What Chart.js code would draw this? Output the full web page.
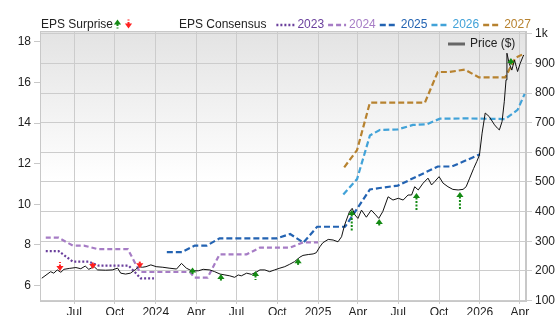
<!DOCTYPE html>
<html>
<head>
<meta charset="utf-8">
<script src="https://cdn.jsdelivr.net/npm/chart.js@4.4.1/dist/chart.umd.min.js"></script>
<style>
  html, body { margin: 0; padding: 0; background: #fff; }
</style>
</head>
<body>
<canvas id="chart" width="556" height="315"></canvas>
<script>
// x axis ticks (quarter starts)
const xTickDates = ['2023-07-01', '2023-10-01', '2024-01-01', '2024-04-01', '2024-07-01', '2024-10-01',
  '2025-01-01', '2025-04-01', '2025-07-01', '2025-10-01', '2026-01-01', '2026-04-01'];
const xTickLabels = ['Jul', 'Oct', '2024', 'Apr', 'Jul', 'Oct', '2025', 'Apr', 'Jul', 'Oct', '2026', 'Apr'];

const epsTicks = [6, 8, 10, 12, 14, 16, 18];
const priceTicks = [100, 200, 300, 400, 500, 600, 700, 800, 900, 1000];
const priceTickLabels = ['100', '200', '300', '400', '500', '600', '700', '800', '900', '1k'];

// share price ($)
const priceDates = [
  '2023-04-19', '2023-05-09', '2023-05-16', '2023-05-24', '2023-06-01', '2023-06-08', '2023-06-20',
  '2023-07-05', '2023-07-16', '2023-07-26', '2023-08-03', '2023-08-15', '2023-08-23', '2023-09-10',
  '2023-09-25', '2023-10-07', '2023-10-14', '2023-10-25', '2023-11-05', '2023-11-17', '2023-11-24',
  '2023-12-02', '2023-12-10', '2023-12-21', '2024-01-02', '2024-01-17', '2024-01-31', '2024-02-17',
  '2024-02-28', '2024-03-10', '2024-03-22', '2024-04-06', '2024-04-17', '2024-05-02', '2024-05-13',
  '2024-05-25', '2024-06-05', '2024-06-16', '2024-06-27', '2024-07-05', '2024-07-12', '2024-07-24',
  '2024-08-04', '2024-08-14', '2024-08-23', '2024-09-03', '2024-09-14', '2024-09-25', '2024-10-07',
  '2024-10-18', '2024-10-29', '2024-11-09', '2024-11-21', '2024-11-28', '2024-12-10', '2024-12-21',
  '2024-12-28', '2025-01-05', '2025-01-12', '2025-01-24', '2025-02-04', '2025-02-15', '2025-02-23',
  '2025-03-02', '2025-03-13', '2025-03-19', '2025-03-25', '2025-04-01', '2025-04-09', '2025-04-20',
  '2025-05-01', '2025-05-11', '2025-05-18', '2025-05-27', '2025-06-08', '2025-06-19', '2025-07-01',
  '2025-07-12', '2025-07-23', '2025-07-31', '2025-08-07', '2025-08-15', '2025-08-26', '2025-09-06',
  '2025-09-14', '2025-09-21', '2025-10-01', '2025-10-10', '2025-10-21', '2025-11-01', '2025-11-13',
  '2025-11-24', '2025-12-01', '2025-12-09', '2025-12-18', '2025-12-25', '2025-12-31', '2026-01-06',
  '2026-01-13', '2026-01-22', '2026-02-03', '2026-02-10', '2026-02-14', '2026-02-20', '2026-02-25',
  '2026-03-01', '2026-03-03', '2026-03-08', '2026-03-14', '2026-03-20', '2026-03-24', '2026-03-27',
  '2026-04-02', '2026-04-08', '2026-04-10'];
const priceValues = [
  175, 197, 192, 203, 195, 205, 208,
  211, 207, 216, 205, 214, 203, 202,
  203, 209, 192, 189, 192, 205, 214,
  212, 214, 220, 214, 212, 209, 206,
  225, 209, 200, 200, 205, 203, 197,
  189, 186, 183, 178, 186, 183, 192,
  188, 195, 203, 203, 197, 203, 209,
  214, 222, 231, 246, 252, 255, 257,
  261, 281, 295, 306, 304, 298, 315,
  355, 400, 411, 389, 377, 405, 381,
  405, 389, 377, 400, 450, 439, 445,
  439, 456, 456, 484, 473, 496, 513,
  490, 501, 518, 496, 484, 475, 473,
  475, 484, 513, 546, 569, 591, 665,
  733, 721, 693, 681, 676, 704, 771,
  845, 935, 901, 878, 912, 890, 873,
  901, 923, 929];

// EPS consensus by fiscal year
const eps2023Dates = ['2023-04-28', '2023-05-27', '2023-06-28', '2023-08-03', '2023-08-26', '2023-11-01', '2023-11-28', '2023-12-28'];
const eps2023Values = [7.69, 7.69, 7.17, 7.17, 6.97, 6.97, 6.35, 6.35];

const eps2024Dates = ['2023-04-28', '2023-05-27', '2023-06-28', '2023-07-23', '2023-08-23', '2023-10-30', '2023-11-26', '2024-03-18',
  '2024-03-29', '2024-04-27', '2024-05-24', '2024-07-24', '2024-08-23', '2024-10-30', '2024-11-28', '2025-01-01'];
const eps2024Values = [8.35, 8.35, 7.96, 7.96, 7.79, 7.79, 6.66, 6.66, 6.38, 6.38, 7.53, 7.53, 7.86, 7.86, 8.12, 8.12];

const eps2025Dates = ['2024-01-26', '2024-02-29', '2024-03-29', '2024-04-25', '2024-05-24', '2024-09-30', '2024-10-30', '2024-11-29',
  '2024-12-30', '2025-03-03', '2025-04-28', '2025-05-20', '2025-06-30', '2025-09-28', '2025-10-30', '2026-01-01'];
const eps2025Values = [7.64, 7.64, 7.96, 7.96, 8.32, 8.32, 8.53, 8.11, 8.89, 8.89, 10.73, 10.8, 10.92, 11.86, 11.86, 12.46];

const eps2026Dates = ['2025-02-27', '2025-03-30', '2025-04-28', '2025-05-20', '2025-06-30', '2025-08-03', '2025-09-03', '2025-10-03',
  '2025-12-02', '2026-02-27', '2026-03-27', '2026-04-12'];
const eps2026Values = [10.48, 11.24, 13.39, 13.66, 13.69, 13.91, 13.94, 14.22, 14.23, 14.2, 14.65, 15.44];

const eps2027Dates = ['2025-03-01', '2025-03-30', '2025-04-28', '2025-08-30', '2025-09-28', '2025-10-25', '2025-11-28', '2025-12-30',
  '2026-02-27', '2026-03-22', '2026-04-12'];
const eps2027Values = [11.82, 12.67, 15.01, 15.01, 16.52, 16.52, 16.64, 16.25, 16.25, 17.21, 17.44];

// EPS surprises (arrow sits on the price, length follows the surprise %)
const surpriseDates = ['2023-05-30', '2023-08-12', '2023-11-26', '2024-03-24', '2024-05-27', '2024-08-13',
  '2024-11-17', '2025-03-18', '2025-05-19', '2025-08-11', '2025-11-17', '2026-03-12'];
const surprisePrices = [199, 206, 209, 211, 189, 199, 242, 405, 375, 463, 466, 919];
const surprisePct = [-4, -3, -3, 2, 3, 4, 2, 17, 3, 13, 12, 3];

const FONT = '"Liberation Sans", Arial, sans-serif';
const GREEN = '#148a14';
const RED = '#ff2020';
const yearColors = { 2023: '#6a3f9c', 2024: '#a67cc5', 2025: '#2363b2', 2026: '#41a2d8', 2027: '#b7822f' };
const yearDash = { 2023: [2, 2], 2024: [5, 3], 2025: [6, 3], 2026: [6, 3], 2027: [6, 3] };

const day = s => Date.parse(s);
const pairs = (dates, vals) => dates.map((d, i) => ({ x: day(d), y: vals[i] }));

function drawArrow(ctx, x, tipY, up, stem, color) {
  const s = up ? 1 : -1;
  ctx.fillStyle = color;
  ctx.beginPath();
  ctx.moveTo(x, tipY);
  ctx.lineTo(x - 3.6, tipY + s * 5);
  ctx.lineTo(x + 3.6, tipY + s * 5);
  ctx.closePath();
  ctx.fill();
  if (stem > 0) {
    ctx.strokeStyle = color;
    ctx.lineWidth = 2;
    ctx.setLineDash([2, 1.5]);
    ctx.beginPath();
    ctx.moveTo(x, tipY + s * 4.5);
    ctx.lineTo(x, tipY + s * (5 + stem));
    ctx.stroke();
    ctx.setLineDash([]);
  }
}

const bgPlugin = {
  id: 'bg',
  beforeDraw(chart) {
    const { ctx, chartArea: a } = chart;
    ctx.save();
    ctx.fillStyle = '#fff';
    ctx.fillRect(0, 0, chart.width, chart.height);
    const g = ctx.createLinearGradient(0, a.top, 0, a.bottom);
    g.addColorStop(0, '#e3e3e3');
    g.addColorStop(0.55, '#ffffff');
    g.addColorStop(1, '#ffffff');
    ctx.fillStyle = g;
    ctx.fillRect(a.left, a.top, a.right - a.left, a.bottom - a.top);
    ctx.restore();
  },
  beforeDatasetsDraw(chart) {
    const { ctx, chartArea: a } = chart;
    ctx.save();
    ctx.strokeStyle = '#c8c8c8';
    ctx.lineWidth = 1;
    ctx.strokeRect(a.left + 0.5, a.top + 0.5, a.right - a.left - 1, a.bottom - a.top);
    ctx.restore();
  }
};

const arrowPlugin = {
  id: 'surpriseArrows',
  afterDatasetsDraw(chart) {
    const idx = chart.data.datasets.findIndex(d => d.label === 'EPS Surprise');
    const meta = chart.getDatasetMeta(idx);
    const ctx = chart.ctx;
    ctx.save();
    meta.data.forEach((pt, i) => {
      const pct = surprisePct[i];
      drawArrow(ctx, pt.x, pt.y, pct > 0, Math.abs(pct), pct > 0 ? GREEN : RED);
    });
    ctx.restore();
  }
};

const legendPlugin = {
  id: 'topLegend',
  afterDraw(chart) {
    const ctx = chart.ctx;
    const a = chart.chartArea;
    const y = 25;
    ctx.save();
    ctx.font = '12px ' + FONT;
    ctx.textBaseline = 'middle';
    ctx.fillStyle = '#222';
    ctx.fillText('EPS Surprise', 41, y);
    drawArrow(ctx, 117.5, 19.5, true, 4, GREEN);
    drawArrow(ctx, 128.5, 28.5, false, 4, RED);

    let x = 179;
    ctx.fillStyle = '#222';
    ctx.fillText('EPS Consensus', x, y);
    x += ctx.measureText('EPS Consensus').width + 10;
    [2023, 2024, 2025, 2026, 2027].forEach(yr => {
      ctx.strokeStyle = yearColors[yr];
      ctx.lineWidth = 2.5;
      ctx.setLineDash(yearDash[yr]);
      ctx.beginPath();
      ctx.moveTo(x, y);
      ctx.lineTo(x + 18, y);
      ctx.stroke();
      ctx.setLineDash([]);
      x += 21;
      ctx.fillStyle = yearColors[yr];
      ctx.fillText(String(yr), x, y);
      x += ctx.measureText(String(yr)).width + 4;
    });

    // price legend inside the plot
    ctx.strokeStyle = '#666';
    ctx.lineWidth = 3;
    ctx.beginPath();
    ctx.moveTo(448, 44);
    ctx.lineTo(465, 44);
    ctx.stroke();
    ctx.fillStyle = '#222';
    ctx.fillText('Price ($)', 470, 44);
    ctx.restore();
  }
};

function epsSet(yr, dates, vals) {
  return {
    label: String(yr),
    data: pairs(dates, vals),
    yAxisID: 'yEps',
    borderColor: yearColors[yr],
    borderWidth: 2.2,
    borderDash: yearDash[yr],
    pointRadius: 0,
    fill: false,
    order: 2
  };
}

const tickFont = { family: FONT, size: 12 };

new Chart(document.getElementById('chart'), {
  type: 'line',
  data: {
    datasets: [
      {
        label: 'Price ($)',
        data: pairs(priceDates, priceValues),
        yAxisID: 'yPrice',
        borderColor: '#111',
        borderWidth: 1,
        pointRadius: 0,
        fill: false,
        order: 1
      },
      epsSet(2023, eps2023Dates, eps2023Values),
      epsSet(2024, eps2024Dates, eps2024Values),
      epsSet(2025, eps2025Dates, eps2025Values),
      epsSet(2026, eps2026Dates, eps2026Values),
      epsSet(2027, eps2027Dates, eps2027Values),
      {
        label: 'EPS Surprise',
        data: pairs(surpriseDates, surprisePrices),
        yAxisID: 'yPrice',
        showLine: false,
        pointRadius: 0,
        order: 0
      }
    ]
  },
  options: {
    responsive: false,
    animation: false,
    devicePixelRatio: 1,
    layout: { padding: { top: 31, left: 0, right: 0, bottom: 0 } },
    plugins: { legend: { display: false }, tooltip: { enabled: false } },
    scales: {
      x: {
        type: 'linear',
        min: day('2023-04-15'),
        max: day('2026-04-15'),
        afterBuildTicks: s => { s.ticks = xTickDates.map(d => ({ value: day(d) })); },
        afterFit: s => { s.height = 14; },
        ticks: {
          autoSkip: false, maxRotation: 0, padding: 1,
          font: tickFont, color: '#222',
          callback: (v, i) => xTickLabels[i]
        },
        grid: { color: '#cccccc', tickLength: 3 },
        border: { color: '#c8c8c8' }
      },
      yEps: {
        type: 'linear',
        position: 'left',
        min: 5.23,
        max: 18.54,
        afterBuildTicks: s => { s.ticks = epsTicks.map(v => ({ value: v })); },
        afterFit: s => { s.width = 40; },
        ticks: { font: tickFont, color: '#222', padding: 3, callback: v => String(v) },
        grid: { drawOnChartArea: false, tickLength: 6, color: '#c8c8c8' },
        border: { color: '#c8c8c8' }
      },
      yPrice: {
        type: 'linear',
        position: 'right',
        min: 98,
        max: 1010,
        afterBuildTicks: s => { s.ticks = priceTicks.map(v => ({ value: v })); },
        afterFit: s => { s.width = 30; },
        ticks: {
          font: tickFont, color: '#222', padding: 3,
          callback: v => priceTickLabels[priceTicks.indexOf(v)]
        },
        grid: { color: '#cccccc', tickLength: 6 },
        border: { color: '#c8c8c8' }
      }
    }
  },
  plugins: [bgPlugin, arrowPlugin, legendPlugin]
});
</script>
</body>
</html>
